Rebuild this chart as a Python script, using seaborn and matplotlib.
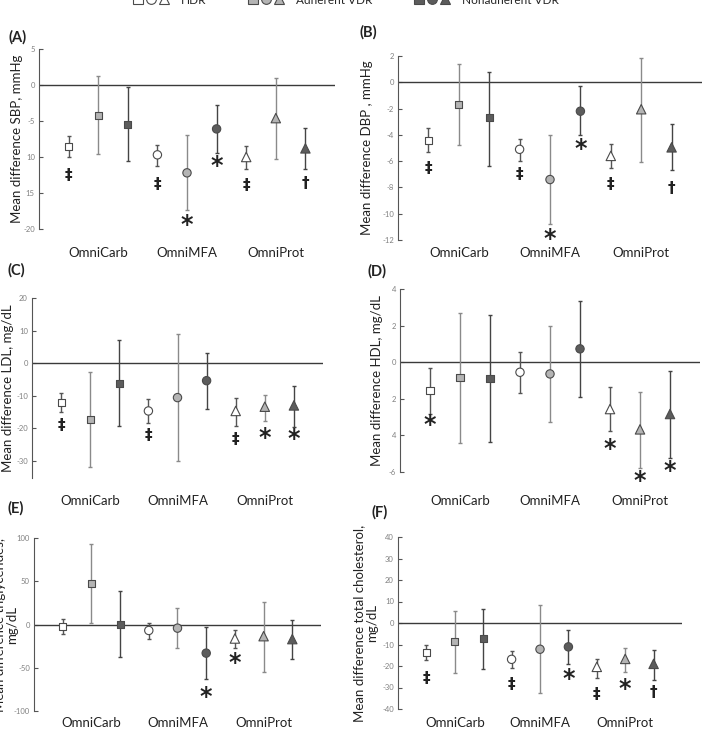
import numpy as np
import pandas as pd
import matplotlib
matplotlib.use('Agg')
import matplotlib.pyplot as plt
from matplotlib.lines import Line2D
from matplotlib.legend_handler import HandlerTuple
import seaborn as sns

# ── Data (mean difference and 95% CI) ────────────────────────────────────────
diets = ['OmniCarb'] * 3 + ['OmniMFA'] * 3 + ['OmniProt'] * 3
groups = ['HDR', 'Adherent VDR', 'Nonadherent VDR'] * 3

sbp_mean = [-8.5, -4.2, -5.5, -9.7, -12.2, -6.1, -10.0, -4.6, -8.8]
sbp_lo = [-10.0, -9.6, -10.6, -11.2, -17.3, -9.4, -11.7, -10.3, -11.7]
sbp_hi = [-7.1, 1.2, -0.3, -8.3, -7.0, -2.8, -8.5, 1.0, -6.0]
sbp_sig = ['‡', '', '', '‡', '*', '*', '‡', '', '†']
sbp_sig_y = [-12.6, 0, 0, -13.8, -19.4, -11.3, -13.9, 0, -13.7]

dbp_mean = [-4.4, -1.7, -2.7, -5.1, -7.4, -2.2, -5.6, -2.05, -4.95]
dbp_lo = [-5.3, -4.8, -6.35, -6.0, -10.8, -4.0, -6.55, -6.05, -6.7]
dbp_hi = [-3.5, 1.4, 0.8, -4.3, -4.0, -0.3, -4.7, 1.85, -3.2]
dbp_sig = ['‡', '', '', '‡', '*', '*', '‡', '', '†']
dbp_sig_y = [-6.55, 0, 0, -7.0, -11.95, -5.1, -7.75, 0, -8.1]

ldl_mean = [-12.1, -17.2, -6.3, -14.7, -10.6, -5.4, -14.7, -13.4, -13.0]
ldl_lo = [-15.0, -32.0, -19.4, -18.3, -30.0, -14.0, -19.2, -17.8, -19.5]
ldl_hi = [-9.1, -2.8, 7.0, -11.0, 8.9, 3.0, -10.7, -9.7, -6.9]
ldl_sig = ['‡', '', '', '‡', '', '', '‡', '*', '*']
ldl_sig_y = [-19.2, 0, 0, -22.2, 0, 0, -23.5, -23.0, -23.3]

hdl_mean = [-1.57, -0.86, -0.9, -0.55, -0.64, 0.73, -2.56, -3.67, -2.83]
hdl_lo = [-2.83, -4.42, -4.35, -1.7, -3.25, -1.88, -3.78, -5.76, -5.23]
hdl_hi = [-0.31, 2.69, 2.58, 0.58, 2.0, 3.33, -1.37, -1.63, -0.46]
hdl_sig = ['*', '', '', '', '', '', '*', '*', '*']
hdl_sig_y = [-3.44, 0, 0, 0, 0, 0, -4.75, -6.5, -5.96]

tg_mean = [-2.7, 47.7, 0.4, -6.9, -4.2, -33.1, -16.2, -13.5, -16.9]
tg_lo = [-11.5, 2.3, -38.0, -16.2, -26.9, -63.5, -27.3, -54.6, -40.0]
tg_hi = [6.2, 93.0, 38.8, 2.3, 18.5, -2.7, -6.5, 26.2, 5.0]
tg_sig = ['', '', '', '', '', '*', '*', '', '']
tg_sig_y = [0, 0, 0, 0, 0, -84.2, -45.0, 0, 0]

tc_mean = [-13.8, -8.8, -7.4, -16.9, -12.2, -11.1, -20.4, -16.7, -19.0]
tc_lo = [-17.0, -23.2, -21.2, -21.0, -32.7, -18.9, -25.5, -22.8, -26.6]
tc_hi = [-10.1, 5.6, 6.5, -12.8, 8.5, -3.1, -16.7, -11.8, -12.5]
tc_sig = ['‡', '', '', '‡', '', '*', '‡', '*', '†']
tc_sig_y = [-25.9, 0, 0, -28.5, 0, -25.9, -33.1, -30.8, -32.4]

sbp_ticks = [5, 0, -5, -10, -15, -20]
sbp_ticklabels = ['5', '0', '-5', '10', '15', '-20']
dbp_ticks = [2, 0, -2, -4, -6, -8, -10, -12]
ldl_ticks = [20, 10, 0, -10, -20, -30]
hdl_ticks = [4, 2, 0, -2, -4, -6]
hdl_ticklabels = ['4', '2', '0', '2', '4', '-6']
tg_ticks = [100, 50, 0, -50, -100]
tc_ticks = [40, 30, 20, 10, 0, -10, -20, -30, -40]

diet_labels = ['OmniCarb', 'OmniMFA', 'OmniProt']
legend_labels = ['HDR', 'Adherent VDR', 'Nonadherent VDR']

# ── Styling ──────────────────────────────────────────────────────────────────
sns.set_style('white')
plt.rcParams['font.family'] = ['Lato', 'DejaVu Sans']

fill = {'HDR': 'white', 'Adherent VDR': '#b4b4b4', 'Nonadherent VDR': '#5c5c5c'}
bar_col = {'HDR': '#555555', 'Adherent VDR': '#8a8a8a', 'Nonadherent VDR': '#444444'}
markers = {'OmniCarb': 's', 'OmniMFA': 'o', 'OmniProt': '^'}
msizes = {'OmniCarb': 26, 'OmniMFA': 36, 'OmniProt': 46}

W, H = 703, 730
fig = plt.figure(figsize=(W / 100, H / 100), dpi=100)


def px_rect(x0, x1, ytop, ybot):
    return [x0 / W, 1 - ybot / H, (x1 - x0) / W, (ybot - ytop) / H]


panels = [
    # letter, rect, mean, lo, hi, sig, sig_y, ylim, ticks, ticklabels, ylabel, label x(px), xlabel pad, letter pos
    ('(A)', (39, 335, 49, 229), sbp_mean, sbp_lo, sbp_hi, sbp_sig, sbp_sig_y, (-20, 5),
     sbp_ticks, sbp_ticklabels, 'Mean difference SBP, mmHg', 23, 13, (18, 37)),
    ('(B)', (398, 702, 56, 240), dbp_mean, dbp_lo, dbp_hi, dbp_sig, dbp_sig_y, (-12, 2),
     dbp_ticks, None, 'Mean difference DBP , mmHg', 373, 5, (368, 32)),
    ('(C)', (32, 323, 298, 478), ldl_mean, ldl_lo, ldl_hi, ldl_sig, ldl_sig_y, (-35.3, 20),
     ldl_ticks, None, 'Mean difference LDL, mg/dL', 14, 12, (16, 270)),
    ('(D)', (400, 700, 289, 472), hdl_mean, hdl_lo, hdl_hi, hdl_sig, hdl_sig_y, (-6, 4),
     hdl_ticks, hdl_ticklabels, 'Mean difference HDL, mg/dL', 383, 16.5, (377, 271)),
    ('(E)', (34, 321, 538, 711), tg_mean, tg_lo, tg_hi, tg_sig, tg_sig_y, (-100, 100),
     tg_ticks, None, 'Mean difference triglycerides,\nmg/dL', 18, 4.5, (16, 508)),
    ('(F)', (398, 682, 537, 709), tc_mean, tc_lo, tc_hi, tc_sig, tc_sig_y, (-40, 40),
     tc_ticks, None, 'Mean difference total cholesterol,\nmg/dL', 378, 6, (380, 512)),
]

for (letter, r, mean, lo, hi, sig, sig_y, ylim, ticks, tlabels, ylabel,
     lab_x, xpad, lpos) in panels:
    ax = fig.add_axes(px_rect(*r))
    df = pd.DataFrame({'pos': np.arange(9), 'mean': mean, 'lo': lo, 'hi': hi,
                       'diet': diets, 'group': groups, 'sig': sig, 'sig_y': sig_y})

    ax.axhline(0, color='#3a3a3a', lw=1.0, zorder=1)

    # confidence interval whiskers, one colour per adherence group
    for grp, sub in df.groupby('group'):
        yerr = np.vstack([sub['mean'] - sub['lo'], sub['hi'] - sub['mean']])
        ax.errorbar(sub['pos'], sub['mean'], yerr=yerr, fmt='none',
                    ecolor=bar_col[grp], elinewidth=1.0, capsize=1.6,
                    capthick=1.0, zorder=2)

    sns.scatterplot(data=df, x='pos', y='mean', hue='group', palette=fill,
                    style='diet', markers=markers, size='diet', sizes=msizes,
                    edgecolor='#4a4a4a', linewidth=0.8, legend=False,
                    ax=ax, zorder=3)

    # significance symbols under the points
    for _, row in df[df['sig'] != ''].iterrows():
        if row['sig'] == '*':
            ax.text(row['pos'], row['sig_y'], '*', ha='center', va='center',
                    fontsize=17, fontweight='bold', color='#222222',
                    family='DejaVu Sans', clip_on=False)
        else:
            ax.text(row['pos'], row['sig_y'], row['sig'], ha='center', va='center',
                    fontsize=11, fontweight='bold', color='#222222',
                    family='DejaVu Sans', clip_on=False)

    ax.set_xlim(-1, 9)
    ax.set_ylim(*ylim)
    ax.set_yticks(ticks)
    if tlabels is not None:
        ax.set_yticklabels(tlabels)
    else:
        ax.set_yticklabels([str(t) for t in ticks])
    ax.tick_params(axis='y', labelsize=5.5, labelcolor='#808080', direction='in',
                   length=3, width=0.8, color='#555555', left=True, pad=3)
    ax.set_xticks([1, 4, 7])
    ax.set_xticklabels(diet_labels)
    ax.tick_params(axis='x', length=0, labelsize=9.5, pad=xpad, labelcolor='#222222')
    ax.set_xlabel('')
    ax.set_ylabel(ylabel, fontsize=9.5, color='#222222', linespacing=1.05)
    ax.yaxis.set_label_coords((lab_x - r[0]) / (r[1] - r[0]), 0.5)

    sns.despine(ax=ax, top=True, right=True, bottom=True, left=False)
    ax.spines['left'].set_color('#555555')
    ax.spines['left'].set_linewidth(0.8)

    fig.text(lpos[0] / W, 1 - lpos[1] / H, letter, ha='center', va='center',
             fontsize=10.5, fontweight='bold', color='#222222')

# ── Legend (partly cut off at the top edge, as in the source) ────────────────
handles = []
for grp in legend_labels:
    handles.append(tuple(
        Line2D([], [], ls='none', marker=m, markersize=7, markerfacecolor=fill[grp],
               markeredgecolor='#4a4a4a', markeredgewidth=0.8)
        for m in ['s', 'o', '^']))
fig.legend(handles, legend_labels,
           handler_map={tuple: HandlerTuple(ndivide=None, pad=0.3)},
           loc='center', bbox_to_anchor=(0.492, 1.0), ncol=3, frameon=False,
           fontsize=8.5, handlelength=3.0, columnspacing=3.6, handletextpad=1.0)

fig.savefig('out.png', dpi=100)
